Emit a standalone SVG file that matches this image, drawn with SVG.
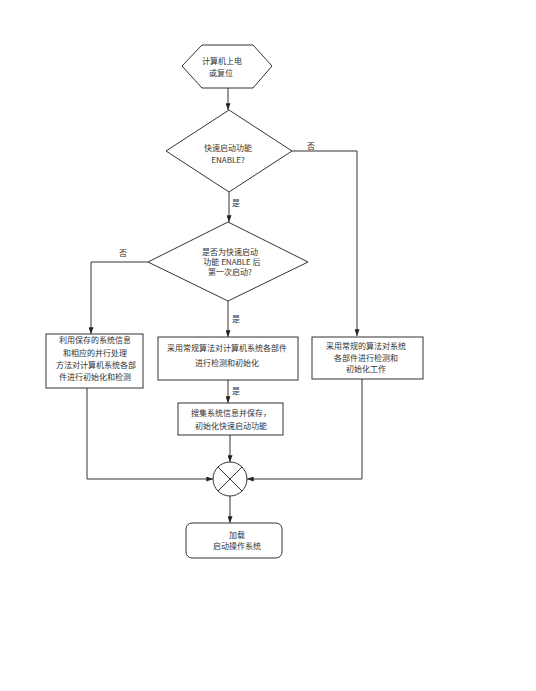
<svg xmlns="http://www.w3.org/2000/svg" width="536" height="691" viewBox="0 0 536 691">
<defs>
<marker id="arr" viewBox="0 0 8 6" refX="8" refY="3" markerWidth="7" markerHeight="5" markerUnits="userSpaceOnUse" orient="auto">
<path d="M0,0 L8,3 L0,6 Z" fill="#222"/>
</marker>
</defs>
<style>
.s{fill:#fff;stroke:#333;stroke-width:1}
.c{fill:none;stroke:#333;stroke-width:1}
.t{font-family:"Noto Sans CJK SC","Noto Sans",sans-serif;font-size:8px;fill:#333;text-anchor:middle}
.l{font-family:"Noto Sans CJK SC","Noto Sans",sans-serif;font-size:8px;fill:#333;text-anchor:middle}
</style>
<rect width="536" height="691" fill="#fff"/>
<g id="connectors">
<path class="c" d="M228,88 L228,110" marker-end="url(#arr)"/>
<path class="c" d="M292,151 L357,151 L357,336" marker-end="url(#arr)"/>
<path class="c" d="M229,192 L229,222" marker-end="url(#arr)"/>
<path class="c" d="M148,262 L91,262 L91,334" marker-end="url(#arr)"/>
<path class="c" d="M228,301 L228,337" marker-end="url(#arr)"/>
<path class="c" d="M228,380 L228,403" marker-end="url(#arr)"/>
<path class="c" d="M230,435 L230,462" marker-end="url(#arr)"/>
<path class="c" d="M87,388 L87,479 L213,479" marker-end="url(#arr)"/>
<path class="c" d="M362,379 L362,479 L247,479" marker-end="url(#arr)"/>
<path class="c" d="M230,496 L230,523" marker-end="url(#arr)"/>
<text class="l" x="311" y="149">否</text>
<text class="l" x="236" y="206">是</text>
<text class="l" x="123" y="256">否</text>
<text class="l" x="236" y="322">是</text>
<text class="l" x="236" y="394">是</text>
</g>
<g id="start">
<polygon class="s" points="182,66 202,45 253,45 272,66 253,88 202,88"/>
<text class="t" x="222" y="64">计算机上电</text>
<text class="t" x="221" y="76">或复位</text>
</g>
<g id="decision1">
<polygon class="s" points="229,110 292,151 229,192 166,151"/>
<text class="t" x="228" y="151">快速启动功能</text>
<text class="t" x="228" y="163">ENABLE?</text>
</g>
<g id="decision2">
<polygon class="s" points="228,222 308,262 228,301 148,262"/>
<text class="t" x="230" y="255">是否为快速启动</text>
<text class="t" x="232" y="265">功能 ENABLE 后</text>
<text class="t" x="230" y="275">第一次启动?</text>
</g>
<g id="box-left">
<rect class="s" x="46" y="334" width="97" height="54"/>
<text class="t" x="95" y="343">利用保存的系统信息</text>
<text class="t" x="95" y="356">和相应的并行处理</text>
<text class="t" x="96" y="368">方法对计算机系统各部</text>
<text class="t" x="95" y="380">件进行初始化和检测</text>
</g>
<g id="box-middle">
<rect class="s" x="158" y="337" width="140" height="43"/>
<text class="t" x="227" y="351">采用常规算法对计算机系统各部件</text>
<text class="t" x="227" y="366">进行检测和初始化</text>
</g>
<g id="box-right">
<rect class="s" x="312" y="337" width="111" height="42"/>
<text class="t" x="366" y="349">采用常规的算法对系统</text>
<text class="t" x="366" y="361">各部件进行检测和</text>
<text class="t" x="366" y="372">初始化工作</text>
</g>
<g id="box-save">
<rect class="s" x="178" y="403" width="105" height="32"/>
<text class="t" x="231" y="416">搜集系统信息并保存，</text>
<text class="t" x="231" y="429">初始化快速启动功能</text>
</g>
<g id="merge">
<circle class="s" cx="230" cy="479" r="17"/>
<path class="c" d="M218,467 L242,491 M242,467 L218,491"/>
</g>
<g id="end">
<rect class="s" x="186" y="523" width="96" height="35" rx="6"/>
<text class="t" x="237" y="538">加载</text>
<text class="t" x="237" y="549">启动操作系统</text>
</g>
</svg>
